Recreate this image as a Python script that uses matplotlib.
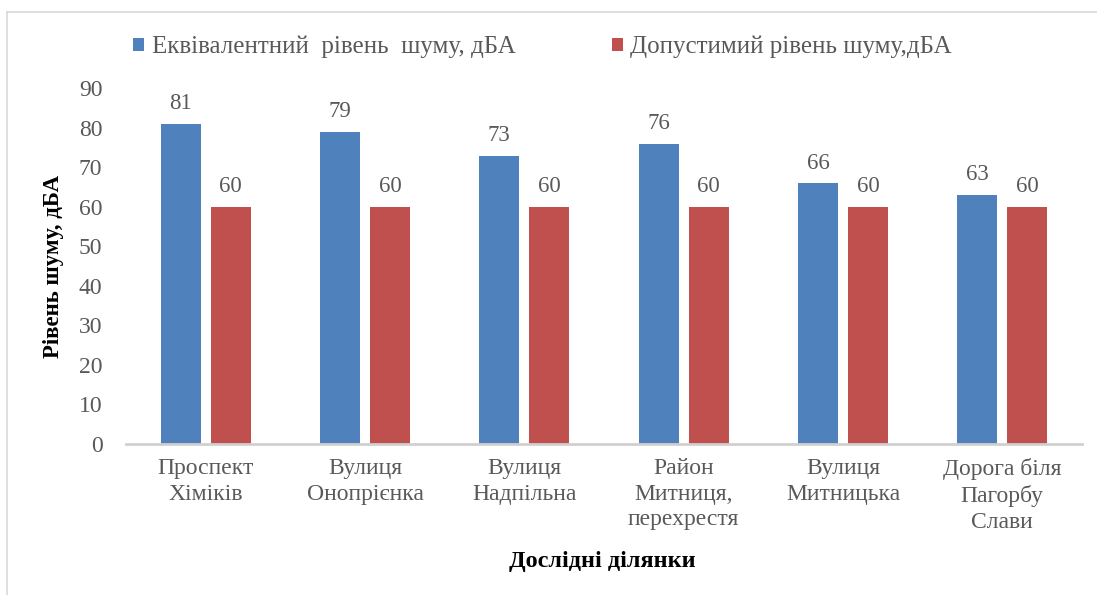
import matplotlib.pyplot as plt
import numpy as np
from matplotlib.lines import Line2D

# data
sites = ['Проспект\nХіміків', 'Вулиця\nОнопрієнка', 'Вулиця\nНадпільна',
         'Район\nМитниця,\nперехрестя', 'Вулиця\nМитницька', 'Дорога біля\nПагорбу\nСлави']
equiv_level = [81, 79, 73, 76, 66, 63]
allowed_level = [60, 60, 60, 60, 60, 60]
series_names = ['Еквівалентний  рівень  шуму, дБА', 'Допустимий рівень шуму,дБА']

plt.rcParams['font.family'] = ['Liberation Serif', 'DejaVu Serif']
grey = '#595959'

fig = plt.figure(figsize=(10.97, 5.95), dpi=100)
ax = fig.add_axes([0.1149, 0.2538, 0.8714, 0.5975])

x = np.arange(len(sites))
w = 0.25
off = 0.157
b1 = ax.bar(x - off, equiv_level, w, color='#4F81BD', label=series_names[0])
b2 = ax.bar(x + off, allowed_level, w, color='#C0504D', label=series_names[1])

# value labels
for bars in (b1, b2):
    for r in bars:
        ax.annotate(f'{r.get_height():.0f}', (r.get_x() + r.get_width() / 2, r.get_height()),
                    xytext=(0, 7), textcoords='offset points', ha='center', va='bottom',
                    fontsize=16.5, color=grey)

ax.set_xlim(-0.5, len(sites) - 0.5)
ax.set_ylim(0, 90)
ax.set_yticks(np.arange(0, 91, 10))
ax.set_xticks(x)
ax.set_xticklabels(sites, linespacing=1.3)
ax.tick_params(axis='both', length=0, labelsize=17, colors=grey)
ax.tick_params(axis='x', pad=10)
ax.tick_params(axis='y', pad=17)
for s in ['top', 'right', 'left']:
    ax.spines[s].set_visible(False)
ax.spines['bottom'].set_color('#D0D0D0')
ax.spines['bottom'].set_linewidth(2)

ax.set_ylabel('Рівень шуму, дБА', fontsize=16.5, fontweight='bold', labelpad=11)
fig.text(0.549, 0.0555, 'Дослідні ділянки', fontsize=17.5, fontweight='bold', ha='center', va='center')

fig.legend(handles=[b1, b2], loc='center left', bbox_to_anchor=(133 / 1097, 0.921), ncol=2,
           frameon=False, fontsize=18, labelcolor=grey, handlelength=0.45, handleheight=0.45,
           handletextpad=0.3, columnspacing=3.85, borderpad=0, borderaxespad=0)

# outer frame (left and top edges visible)
fig.add_artist(Line2D([7 / 1097, 7 / 1097], [0, 1 - 12 / 595], transform=fig.transFigure,
                      color='#D9D9D9', lw=1.2))
fig.add_artist(Line2D([7 / 1097, 1], [1 - 12 / 595, 1 - 12 / 595], transform=fig.transFigure,
                      color='#D9D9D9', lw=1.2))

fig.savefig('out.png', dpi=100)
